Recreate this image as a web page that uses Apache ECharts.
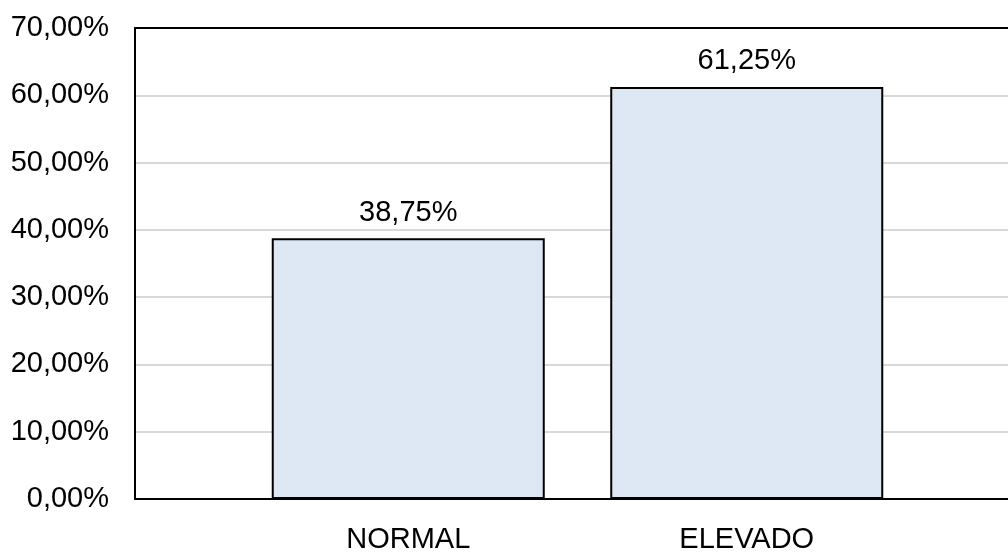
<!DOCTYPE html>
<html>
<head>
<meta charset="utf-8">
<script src="https://cdn.jsdelivr.net/npm/echarts@6/dist/echarts.min.js"></script>
<style>
  html, body { margin: 0; padding: 0; background: #ffffff; }
  #chart { width: 1008px; height: 556px; }
</style>
</head>
<body>
<div id="chart"></div>
<script>
// Categories and their shares (percent)
const categories = ['NORMAL', 'ELEVADO'];
const values = [38.75, 61.25];
// Value axis range and step (percent)
const yMin = 0;
const yMax = 70;
const yStep = 10;

const FONT = '"Liberation Sans", Arial, sans-serif';
const fmt = v => v.toFixed(2).replace('.', ',') + '%';
const frameLine = { show: true, lineStyle: { color: '#000000', width: 2 } };

const chart = echarts.init(document.getElementById('chart'), null, { renderer: 'canvas' });

chart.setOption({
  animation: false,
  backgroundColor: '#ffffff',
  grid: [
    // frame: plot borders, gridlines and value labels (runs past the right edge)
    { left: 135, top: 28, bottom: 57, width: 1000, containLabel: false },
    // bars and category labels
    { left: 239, width: 677, top: 28, bottom: 57, containLabel: false }
  ],
  xAxis: [
    {
      gridIndex: 0, type: 'category', data: categories, position: 'bottom',
      axisLine: frameLine, axisTick: { show: false }, axisLabel: { show: false }, splitLine: { show: false }
    },
    {
      gridIndex: 0, type: 'category', data: categories, position: 'top',
      axisLine: frameLine, axisTick: { show: false }, axisLabel: { show: false }, splitLine: { show: false }
    },
    {
      gridIndex: 1, type: 'category', data: categories,
      axisLine: { show: false }, axisTick: { show: false },
      axisLabel: { color: '#000000', fontFamily: FONT, fontSize: 29, margin: 26 }
    }
  ],
  yAxis: [
    {
      gridIndex: 0, type: 'value', min: yMin, max: yMax, interval: yStep,
      axisLine: frameLine,
      axisTick: { show: false },
      axisLabel: { color: '#000000', fontFamily: FONT, fontSize: 29, margin: 26, formatter: fmt },
      splitLine: { show: true, lineStyle: { color: '#d9d9d9', width: 2 } }
    },
    { gridIndex: 1, type: 'value', min: yMin, max: yMax, interval: yStep, show: false, splitLine: { show: false } }
  ],
  series: [{
    type: 'bar',
    xAxisIndex: 2,
    yAxisIndex: 1,
    data: values,
    barWidth: 273,
    itemStyle: { color: '#dde8f4', borderColor: '#000000', borderWidth: 2 },
    label: {
      show: true, position: 'top', distance: 11,
      color: '#000000', fontFamily: FONT, fontSize: 29,
      formatter: p => fmt(p.value)
    }
  }]
});
</script>
</body>
</html>
